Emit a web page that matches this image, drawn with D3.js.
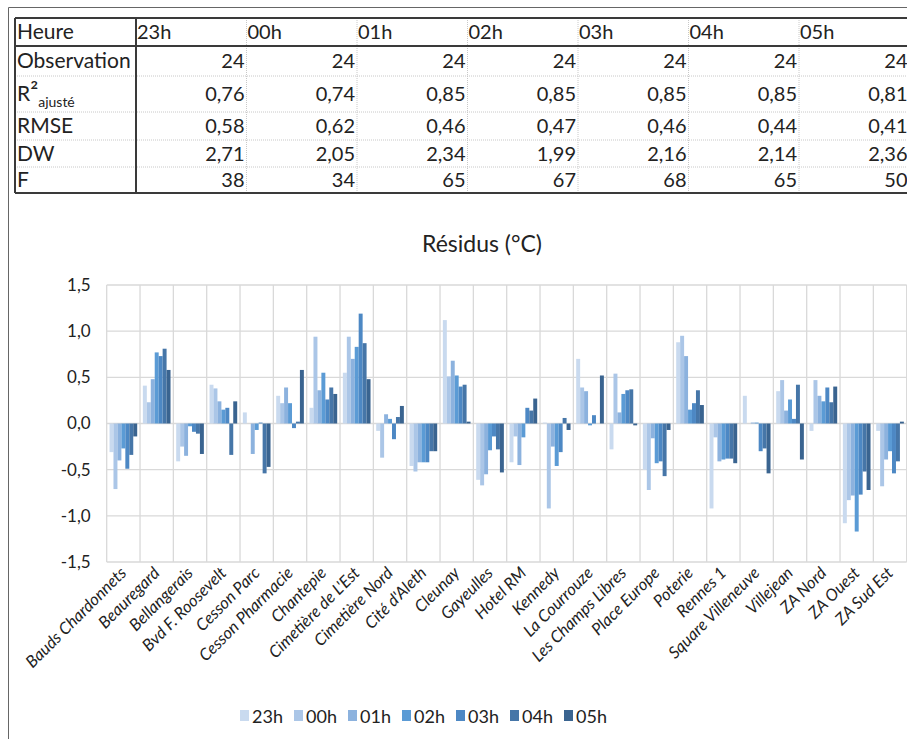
<!DOCTYPE html>
<html><head><meta charset="utf-8">
<script src="https://cdn.jsdelivr.net/npm/d3@7"></script>
<style>
html,body{margin:0;padding:0;background:#fff;}
svg{display:block;}
text{font-family:Lato, "Open Sans", sans-serif;fill:#222;}
</style></head>
<body><svg id="c" width="907" height="739"></svg>
<script>
// ---- Table data ----
const hours = ["23h","00h","01h","02h","03h","04h","05h"];
const observation = ["24","24","24","24","24","24","24"];
const r2adj = ["0,76","0,74","0,85","0,85","0,85","0,85","0,81"];
const rmse = ["0,58","0,62","0,46","0,47","0,46","0,44","0,41"];
const dw = ["2,71","2,05","2,34","1,99","2,16","2,14","2,36"];
const fstat = ["38","34","65","67","68","65","50"];

// ---- Chart data ----
const categories = ["Bauds Chardonnets","Beauregard","Bellangerais","Bvd F. Roosevelt","Cesson Parc","Cesson Pharmacie","Chantepie","Cimetière de L'Est","Cimetière Nord","Cité d'Aleth","Cleunay","Gayeulles","Hotel RM","Kennedy","La Courrouze","Les Champs Libres","Place Europe","Poterie","Rennes 1","Square Villeneuve","Villejean","ZA Nord","ZA Ouest","ZA Sud Est"];
const s23h = [-0.31,0.41,-0.41,0.42,0.12,0.30,0.17,0.55,-0.08,-0.46,1.12,-0.61,-0.42,0.01,0.70,-0.28,-0.50,0.88,-0.92,0.30,0.35,-0.08,-1.08,-0.08];
const s00h = [-0.71,0.23,-0.25,0.38,0.00,0.22,0.94,0.94,-0.37,-0.52,0.51,-0.67,-0.14,-0.92,0.39,0.54,-0.72,0.95,-0.15,0.00,0.47,0.47,-0.83,-0.68];
const s01h = [-0.40,0.48,-0.35,0.24,-0.33,0.39,0.36,0.70,0.10,-0.42,0.68,-0.55,-0.45,-0.25,0.35,0.12,-0.16,0.73,-0.41,0.01,0.14,0.30,-0.78,-0.39];
const s02h = [-0.27,0.77,-0.03,0.15,-0.07,0.22,0.55,0.83,0.05,-0.42,0.52,-0.29,-0.15,-0.46,-0.02,0.32,-0.43,0.15,-0.39,0.01,0.26,0.24,-1.17,-0.30];
const s03h = [-0.49,0.73,-0.09,0.17,0.01,-0.05,0.26,1.19,-0.17,-0.42,0.40,-0.14,0.17,-0.31,0.09,0.36,-0.41,0.22,-0.38,-0.30,0.05,0.39,-0.77,-0.54];
const s04h = [-0.34,0.81,-0.11,-0.34,-0.54,0.02,0.39,0.87,0.07,-0.30,0.42,-0.28,0.14,0.06,0.00,0.37,-0.57,0.36,-0.38,-0.27,0.42,0.23,-0.52,-0.41];
const s05h = [-0.14,0.58,-0.33,0.24,-0.47,0.58,0.32,0.48,0.19,-0.30,0.02,-0.53,0.27,-0.07,0.52,-0.02,-0.07,0.20,-0.43,-0.54,-0.39,0.40,-0.72,0.02];
const seriesNames = ["23h","00h","01h","02h","03h","04h","05h"];
const seriesValues = [s23h,s00h,s01h,s02h,s03h,s04h,s05h];
const seriesColors = ["#c9daef","#abc6e7","#8cb2de","#5b9bd5","#4d88c4","#4676a8","#3a6490"];
const yTicks = [-1.5,-1.0,-0.5,0,0.5,1.0,1.5];

const svg = d3.select("#c");
svg.append("rect").attr("width",907).attr("height",739).attr("fill","#fff");

// outer frame
svg.append("path").attr("d","M8.5,739 L8.5,7.5 L907,7.5").attr("fill","none").attr("stroke","#666").attr("stroke-width",1);

// ---- Table ----
const colX = d3.scaleLinear().domain([0,7]).range([136,909.5]);
const rowTops = [18,46,76,112,140,167,193];
const tbl = svg.append("g");
const rowLabels = ["Heure","Observation","R²","RMSE","DW","F"];
const rowData = [null, observation, r2adj, rmse, dw, fstat];
for (let r=2;r<=5;r++){
  tbl.append("line").attr("x1",15).attr("x2",907).attr("y1",rowTops[r]).attr("y2",rowTops[r])
    .attr("stroke","#c8c8c8").attr("stroke-dasharray","1,1");
}
for (let c=1;c<7;c++){
  tbl.append("line").attr("x1",colX(c)).attr("x2",colX(c)).attr("y1",18).attr("y2",193)
    .attr("stroke","#c8c8c8").attr("stroke-dasharray","1,1");
}
[[15,18,907,18],[15,46,907,46],[15,193,907,193],[15,18,15,193],[136,18,136,193]].forEach(l=>{
  tbl.append("line").attr("x1",l[0]).attr("y1",l[1]).attr("x2",l[2]).attr("y2",l[3])
    .attr("stroke","#3a3a3a").attr("stroke-width",2);
});
const rowMid = r => (rowTops[r]+rowTops[r+1])/2;
rowLabels.forEach((lab,r)=>{
  const t = tbl.append("text").attr("x",17).attr("y",rowMid(r)+7).attr("font-size",21);
  if (r===2){
    t.append("tspan").text("R");
    t.append("tspan").attr("font-size",24).attr("dy",-1).text("²");
    t.append("tspan").attr("font-size",14).attr("dy",7).text("ajusté");
  } else t.text(lab);
});
hours.forEach((h,i)=>{
  tbl.append("text").attr("x",colX(i)+1).attr("y",rowMid(0)+7).attr("font-size",20).text(h);
});
rowData.forEach((arr,r)=>{
  if(!arr) return;
  arr.forEach((v,i)=>{
    tbl.append("text").attr("x",colX(i+1)-2).attr("y",rowMid(r)+7).attr("text-anchor","end")
      .attr("font-size",20).text(v);
  });
});

// ---- Chart ----
const pLeft=106.7, pRight=906.7, pTop=285, pBottom=562;
const x0 = d3.scaleBand().domain(categories).range([pLeft,pRight]).padding(0);
const x1 = d3.scaleBand().domain(seriesNames).range([x0.bandwidth()*0.085, x0.bandwidth()*0.915]).padding(0);
const y = d3.scaleLinear().domain([-1.5,1.5]).range([pBottom,pTop]);

svg.append("text").attr("x",482).attr("y",252).attr("text-anchor","middle").attr("font-size",23).text("Résidus (°C)");

const grid = svg.append("g");
yTicks.forEach(t=>{
  grid.append("line").attr("x1",pLeft).attr("x2",pRight).attr("y1",y(t)).attr("y2",y(t))
    .attr("stroke","#d9d9d9").attr("stroke-width",1.3);
});
categories.forEach(c=>{
  grid.append("line").attr("x1",x0(c)).attr("x2",x0(c)).attr("y1",pTop).attr("y2",pBottom)
    .attr("stroke","#d9d9d9").attr("stroke-width",1.3);
});
grid.append("line").attr("x1",pRight).attr("x2",pRight).attr("y1",pTop).attr("y2",pBottom)
  .attr("stroke","#d9d9d9").attr("stroke-width",1.3);

const yAxis = d3.axisLeft(y).tickValues(yTicks).tickSize(0).tickPadding(16)
  .tickFormat(d=> d3.format(".1f")(d).replace(".",",").replace("−","-"));
const ya = svg.append("g").attr("transform",`translate(${pLeft},0)`).call(yAxis);
ya.select(".domain").remove();
ya.selectAll("text").attr("font-size",17).attr("fill","#333").style("font-family","Lato, sans-serif");

const bars = svg.append("g");
seriesNames.forEach((s,si)=>{
  bars.append("g").selectAll("rect").data(seriesValues[si]).join("rect")
    .attr("x",(d,i)=>x0(categories[i])+x1(s))
    .attr("width",x1.bandwidth())
    .attr("y",d=>y(Math.max(0,d)))
    .attr("height",d=>Math.abs(y(d)-y(0)))
    .attr("fill",seriesColors[si]);
});

const xAxis = d3.axisBottom(x0).tickSize(0).tickPadding(0);
const xa = svg.append("g").attr("transform",`translate(0,${pBottom})`).call(xAxis);
xa.select(".domain").remove();
xa.selectAll("text").attr("font-size",16.5).attr("font-style","italic").attr("fill","#333")
  .attr("text-anchor","end").attr("dy",0).attr("y",0)
  .attr("transform",`translate(${x0.bandwidth()*0.12},12) rotate(-45)`);

const lg = svg.append("g");
const lx = d3.scalePoint().domain(seriesNames).range([240,564]);
seriesNames.forEach((s,i)=>{
  lg.append("rect").attr("x",lx(s)).attr("y",710).attr("width",9).attr("height",11).attr("fill",seriesColors[i]);
  lg.append("text").attr("x",lx(s)+12).attr("y",723).attr("font-size",18).attr("fill","#333").text(s);
});
</script></body></html>
